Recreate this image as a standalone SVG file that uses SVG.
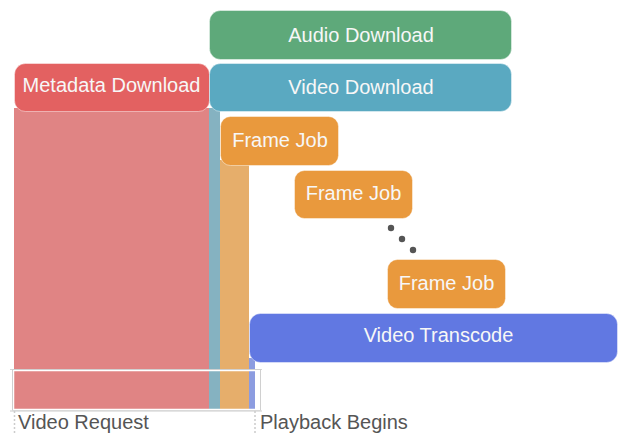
<svg xmlns="http://www.w3.org/2000/svg" width="618" height="433" viewBox="0 0 618 433">
<style>
.box{stroke:#ffffff;stroke-opacity:0.45;stroke-width:1}
.lbl{font-family:"Liberation Sans",Arial,sans-serif;font-size:20px;fill:#f7f7f7;text-anchor:middle}
.axis{font-family:"Liberation Sans",Arial,sans-serif;font-size:20px;fill:#555555}
.tick{stroke:#cccccc;stroke-width:1.5;stroke-dasharray:2,2}
</style>
<rect width="618" height="433" fill="#ffffff"/>
<g id="columns">
<rect x="14" y="108" width="195" height="301" fill="#e08484"/>
<rect x="209" y="108" width="11" height="301" fill="#85b2c1"/>
<rect x="220" y="160" width="29" height="249" fill="#e6ae6b"/>
<rect x="249" y="358" width="6" height="51" fill="#8c9ce0"/>
</g>
<g id="metadata">
<rect class="box" x="14.5" y="63.5" width="195" height="48" rx="11" fill="#e36161"/>
<text class="lbl" x="111.5" y="92">Metadata Download</text>
</g>
<g id="audio">
<rect class="box" x="209.5" y="10.5" width="302" height="49" rx="11" fill="#5ea97a"/>
<text class="lbl" x="361" y="42">Audio Download</text>
</g>
<g id="video">
<rect class="box" x="209.5" y="63.5" width="302" height="48" rx="11" fill="#5aa9c1"/>
<text class="lbl" x="361" y="94">Video Download</text>
</g>
<g id="frame1">
<rect class="box" x="220.5" y="116.5" width="118" height="49" rx="10" fill="#e9993d"/>
<text class="lbl" x="280" y="147">Frame Job</text>
</g>
<g id="frame2">
<rect class="box" x="294.5" y="170.5" width="118" height="48" rx="10" fill="#e9993d"/>
<text class="lbl" x="353.5" y="200">Frame Job</text>
</g>
<g id="dots" fill="#555555">
<circle cx="391" cy="228" r="3.2"/>
<circle cx="402" cy="239" r="3.2"/>
<circle cx="413" cy="250" r="3.2"/>
</g>
<g id="frame3">
<rect class="box" x="387.5" y="259.5" width="118" height="49" rx="10" fill="#e9993d"/>
<text class="lbl" x="446.5" y="290">Frame Job</text>
</g>
<g id="transcode">
<rect class="box" x="249.5" y="313.5" width="368" height="49" rx="11" fill="#6178e2"/>
<text class="lbl" x="438.5" y="342">Video Transcode</text>
</g>
<g id="connectors">
<line x1="10" y1="369.5" x2="262" y2="369.5" stroke="#d6d6d6" stroke-width="1"/>
<rect x="13.5" y="370.5" width="246" height="39" fill="none" stroke="#ffffff" stroke-width="1.5"/>
<rect x="12.5" y="369.5" width="248" height="41" fill="none" stroke="#d0d0d0" stroke-width="1"/>
<line x1="10" y1="411" x2="262" y2="411" stroke="#dddddd" stroke-width="1.5"/>
<line class="tick" x1="14.5" y1="411" x2="14.5" y2="433"/>
<line class="tick" x1="255" y1="411" x2="255" y2="433"/>
</g>
<g id="axis-labels">
<text class="axis" x="18" y="429">Video Request</text>
<text class="axis" x="260" y="429">Playback Begins</text>
</g>
</svg>
